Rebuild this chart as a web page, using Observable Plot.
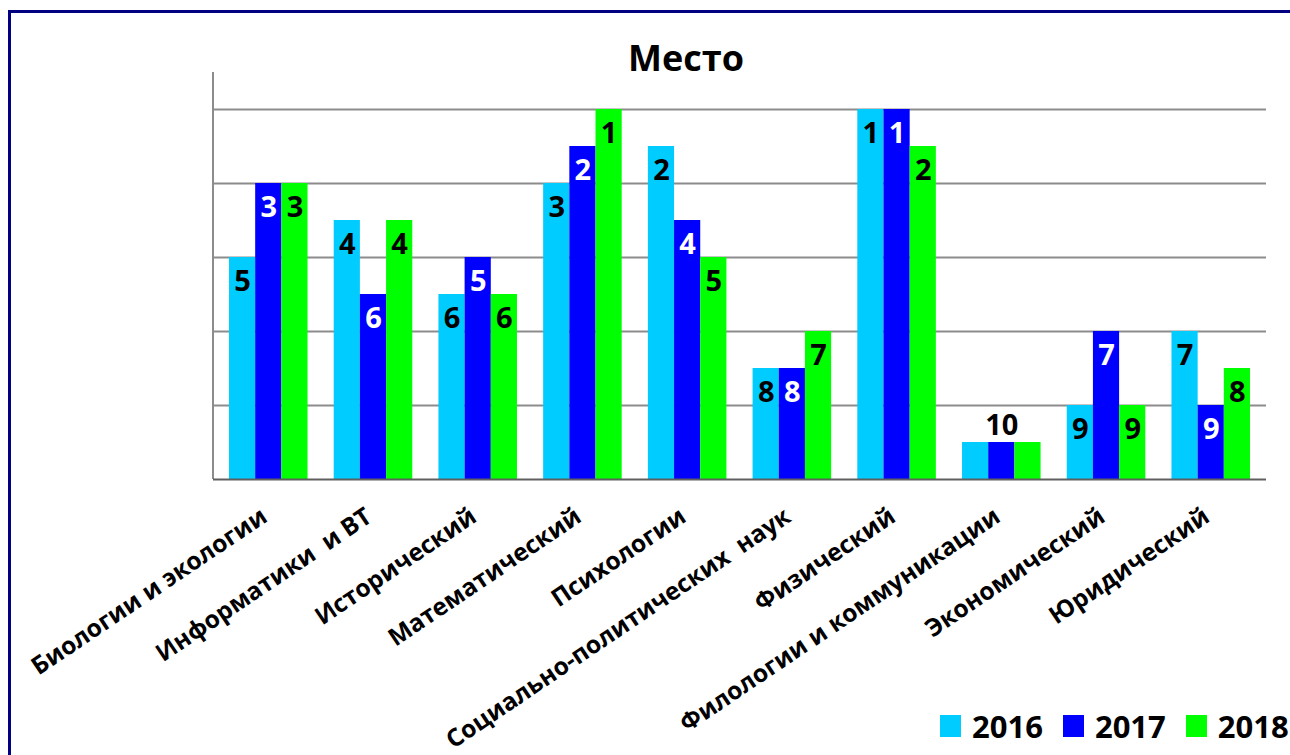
<!DOCTYPE html>
<html><head><meta charset="utf-8">
<script src="https://cdn.jsdelivr.net/npm/d3@7"></script>
<script src="https://cdn.jsdelivr.net/npm/@observablehq/plot@0.6"></script>
<style>
html,body{margin:0;padding:0;background:#fff;width:1290px;height:755px;overflow:hidden;font-family:"Open Sans",sans-serif;}
#frame{position:absolute;left:8px;top:10px;width:1400px;height:900px;border:3px solid #000080;box-sizing:border-box;}
#chart{position:absolute;left:0;top:0;}
#title{position:absolute;left:586px;width:200px;top:40px;text-align:center;font-weight:700;font-size:36px;line-height:1;color:#000;}
#legend{position:absolute;left:940px;top:706px;display:flex;align-items:center;font-weight:700;font-size:31px;line-height:40px;color:#000;}
#legend .sw{display:inline-block;width:21px;height:22px;margin-right:11px;}
#legend .it{display:flex;align-items:center;margin-right:20px;}
</style></head><body>
<div id="frame"></div>
<div id="chart"></div>
<div id="title">Место</div>
<div id="legend"></div>
<script>
const categories = [
  "Биологии и экологии",
  "Информатики  и ВТ",
  "Исторический",
  "Математический",
  "Психологии",
  "Социально-политических  наук",
  "Физический",
  "Филологии и коммуникации",
  "Экономический",
  "Юридический"
];
const years = ["2016", "2017", "2018"];
const place2016 = [5, 4, 6, 3, 2, 8, 1, 10, 9, 7];
const place2017 = [3, 6, 5, 2, 4, 8, 1, 10, 7, 9];
const place2018 = [3, 4, 6, 1, 5, 7, 2, 10, 9, 8];
const colors = ["#00CCFF", "#0000FF", "#00FF00"];
const labelColors = ["#000000", "#FFFFFF", "#000000"];
const gridTicks = [2, 4, 6, 8, 10];
const axisTop = 11; // bar height = axisTop - place

const places = [place2016, place2017, place2018];
const key = (c, y) => c + "|" + y;
const domain = [];
categories.forEach((c, i) => {
  if (i) domain.push("gap" + i);
  years.forEach(y => domain.push(key(c, y)));
});
const rows = [];
categories.forEach((c, i) => {
  years.forEach((y, j) => {
    const p = places[j][i];
    rows.push({category: c, year: y, place: p, value: axisTop - p, key: key(c, y)});
  });
});

const labelMarks = years.map((y, j) =>
  Plot.text(rows.filter(d => d.year === y && d.place < 10), {
    x: "key", y: "value", text: d => String(d.place), dy: 24,
    fill: labelColors[j], fontSize: 29, fontWeight: 700
  })
);

const plot = Plot.plot({
  width: 1290, height: 755,
  marginLeft: 213, marginRight: 24, marginTop: 72, marginBottom: 276,
  x: {type: "band", domain, paddingInner: 0, paddingOuter: 0.611, round: false, axis: null},
  y: {domain: [0, axisTop], axis: null},
  color: {domain: years, range: colors},
  style: {fontFamily: "Open Sans", background: "transparent", overflow: "visible"},
  marks: [
    Plot.ruleY(gridTicks, {stroke: "#8c8c8c", strokeWidth: 2}),
    Plot.barY(rows, {x: "key", y: "value", fill: "year"}),
    Plot.ruleY([0], {stroke: "#5f5f5f", strokeWidth: 2}),
    ...labelMarks,
    Plot.text(rows.filter(d => d.place === 10 && d.year === "2017"), {
      x: "key", y: "value", text: d => String(d.place), dy: -17,
      fill: "#000", fontSize: 29, fontWeight: 700
    }),
    Plot.text(categories, {
      x: d => key(d, "2017"), frameAnchor: "bottom", text: d => d,
      rotate: -34, textAnchor: "end", dy: 41, dx: 0,
      fill: "#000", fontSize: 24.5, fontWeight: 700
    })
  ]
});

const xs = plot.scale("x"), ys = plot.scale("y");
d3.select(plot).insert("line", ":first-child")
  .attr("x1", xs.range[0]).attr("x2", xs.range[0])
  .attr("y1", ys.apply(axisTop)).attr("y2", ys.apply(0))
  .attr("stroke", "#8c8c8c").attr("stroke-width", 2);

document.getElementById("chart").appendChild(plot);

const legend = document.getElementById("legend");
years.forEach((y, j) => {
  const it = document.createElement("div");
  it.className = "it";
  const sw = document.createElement("span");
  sw.className = "sw";
  sw.style.background = colors[j];
  it.appendChild(sw);
  it.appendChild(document.createTextNode(y));
  legend.appendChild(it);
});
</script>
</body></html>
